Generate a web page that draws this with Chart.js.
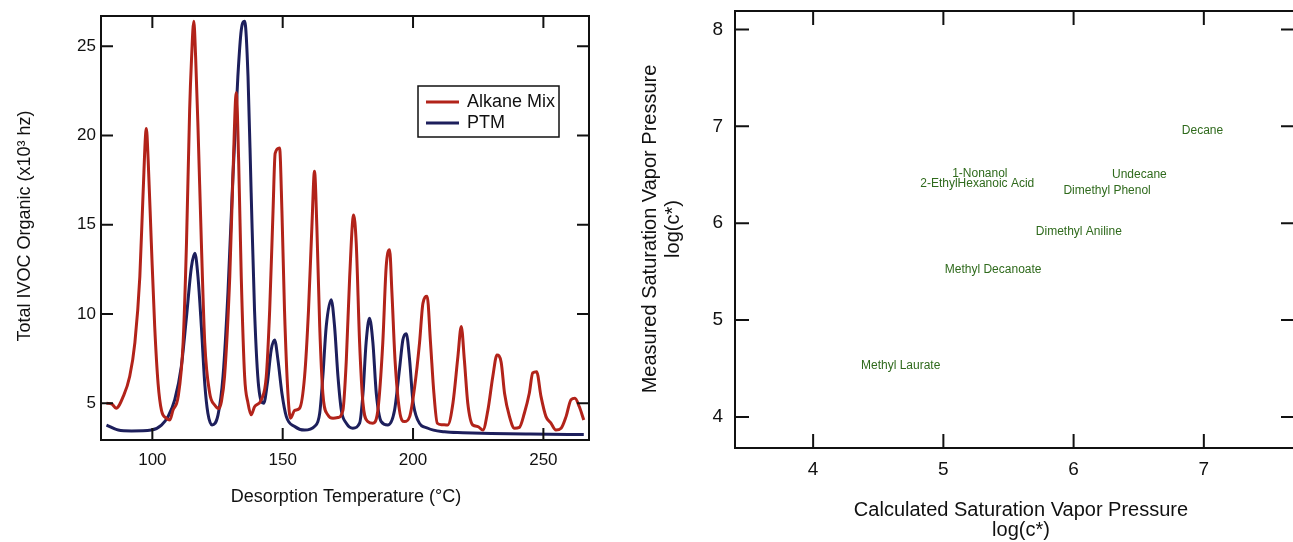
<!DOCTYPE html>
<html lang="en">
<head>
<meta charset="UTF-8">
<title>IVOC desorption and saturation vapor pressure</title>
<style>
  html, body { margin: 0; padding: 0; background: #fff; overflow: hidden; }
  .panel { position: absolute; top: 0; height: 542px; }
  #leftPanel { left: 0; width: 620px; }
  #rightPanel { left: 620px; width: 680px; }
</style>
<script src="https://cdn.jsdelivr.net/npm/chart.js"></script>
</head>
<body>
<div class="panel" id="leftPanel"><canvas id="desorbChart"></canvas></div>
<div class="panel" id="rightPanel"><canvas id="vaporChart"></canvas></div>
<script>
// left panel: desorption thermogram
const alkaneTemp = [82.4, 84.5, 86.1, 88.8, 91.3, 93.3, 95.2, 96.4, 97.7, 98.4, 99.6, 100.9, 102.2, 103.5, 105.4, 106.7,
  107.9, 109.9, 111.8, 113.1, 114.3, 115.0, 115.9, 116.6, 117.5, 118.8, 120.1, 122.0, 123.9, 125.5, 126.5,
  127.7, 129.7, 130.9, 132.2, 133.1, 134.1, 135.4, 136.7, 137.9, 139.2, 141.8, 143.7, 145.0, 146.3, 147.1,
  148.8, 149.7, 150.7, 152.0, 153.0, 154.6, 156.5, 158.4, 159.9, 161.2, 162.2, 163.1, 164.2, 165.4, 167.3,
  169.3, 171.2, 173.1, 174.4, 175.7, 177.2, 178.2, 179.5, 180.8, 182.7, 184.6, 186.5, 188.4, 189.7, 191.0,
  191.9, 193.1, 194.8, 196.7, 198.7, 200.6, 202.5, 203.8, 205.4, 206.7, 208.0, 209.3, 211.0, 213.3, 215.3,
  217.2, 218.5, 219.7, 221.0, 222.9, 224.8, 226.8, 228.7, 230.6, 232.2, 233.8, 235.1, 237.0, 238.9, 240.8,
  242.7, 244.6, 245.9, 247.4, 249.1, 251.0, 252.9, 254.8, 256.8, 258.7, 260.6, 262.1, 263.8, 265.5];
const alkaneSignal = [5.0, 4.95, 4.72, 5.37, 6.5, 8.4, 12.1, 16.6, 20.4, 18.6, 14.0, 9.3, 6.1, 4.6, 4.16, 4.06,
  4.6, 5.37, 8.4, 14.0, 21.4, 24.2, 26.4, 24.4, 20.5, 14.0, 8.4, 5.56, 4.9, 4.7, 5.1,
  6.5, 12.1, 17.7, 22.4, 18.6, 12.1, 6.5, 5.0, 4.35, 4.8, 5.2, 6.5, 10.2, 15.8, 19.0,
  19.3, 15.8, 10.2, 5.56, 4.16, 4.6, 4.72, 6.5, 10.2, 14.9, 18.0, 14.9, 9.3, 5.56, 4.35,
  4.16, 4.2, 4.6, 7.4, 12.1, 15.55, 14.0, 8.4, 5.0, 3.97, 3.88, 4.6, 8.4, 12.65, 13.6,
  11.2, 7.4, 4.6, 3.97, 4.25, 5.9, 8.4, 10.6, 11.0, 8.4, 5.56, 3.88, 3.8, 3.78, 5.0,
  7.6, 9.3, 7.4, 5.0, 3.78, 3.7, 3.5, 4.6, 6.5, 7.7, 7.3, 5.56, 4.25, 3.6, 3.65,
  4.44, 5.56, 6.7, 6.77, 5.37, 4.25, 3.88, 3.5, 3.6, 4.25, 5.2, 5.28, 4.8, 4.06];

const ptmTemp = [82.4, 86.9, 92.0, 99.6, 103.5, 106.0, 108.6, 111.1, 113.0, 115.0, 116.3, 117.5, 118.8, 120.1,
  121.3, 122.9, 125.2, 127.1, 129.0, 130.9, 132.8, 134.1, 135.4, 136.7, 137.9, 139.2, 140.8, 142.7, 144.1,
  145.6, 146.9, 148.2, 149.7, 151.4, 154.6, 158.4, 162.2, 164.2, 165.4, 166.7, 168.6, 169.9, 171.2, 172.5,
  174.4, 176.9, 179.5, 180.8, 182.0, 183.3, 184.6, 185.9, 187.8, 190.3, 192.9, 194.8, 196.1, 197.4, 198.7,
  199.9, 201.8, 205.7, 212.1, 219.1, 230.0, 245.0, 265.5];
const ptmSignal = [3.78, 3.5, 3.45, 3.5, 3.78, 4.25, 5.2, 7.05, 9.7, 12.65, 13.4, 12.1, 9.3, 6.1,
  4.44, 3.78, 4.35, 6.5, 11.2, 17.7, 23.3, 25.9, 26.4, 23.3, 16.8, 10.2, 5.9, 5.0, 6.1,
  8.0, 8.55, 7.4, 5.56, 4.25, 3.7, 3.5, 3.7, 4.44, 6.5, 9.3, 10.8, 9.3, 6.5, 4.6,
  3.88, 3.6, 3.88, 5.56, 8.4, 9.76, 8.4, 5.56, 3.97, 3.78, 4.6, 6.9, 8.55, 8.9, 7.4,
  5.2, 4.06, 3.6, 3.4, 3.35, 3.3, 3.27, 3.25];

const tempTicks = [100, 150, 200, 250];
const signalTicks = [5, 10, 15, 20, 25];

// right panel: measured vs calculated log(c*)
const compounds = ['Decane', '1-Nonanol', '2-EthylHexanoic Acid', 'Undecane', 'Dimethyl Phenol',
  'Dimethyl Aniline', 'Methyl Decanoate', 'Methyl Laurate'];
const calcLogC = [6.99, 5.28, 5.26, 6.505, 6.257, 6.04, 5.382, 4.672];
const measLogC = [6.95, 6.51, 6.41, 6.50, 6.335, 5.914, 5.52, 4.53];

const calcTicks = [4, 5, 6, 7];
const measTicks = [4, 5, 6, 7, 8];

const FONT = 'Arial, "Liberation Sans", sans-serif';

const framePlugin = {
  id: 'frame',
  afterDatasetsDraw(chart, args, opts) {
    const { ctx, chartArea: a, scales: { x, y } } = chart;
    ctx.save();
    ctx.strokeStyle = '#111';
    ctx.lineWidth = opts.lineWidth;
    ctx.strokeRect(a.left, a.top, a.right - a.left, a.bottom - a.top);
    const len = opts.tickLength;
    ctx.beginPath();
    x.ticks.forEach(t => {
      const px = x.getPixelForValue(t.value);
      ctx.moveTo(px, a.bottom); ctx.lineTo(px, a.bottom - len);
      ctx.moveTo(px, a.top); ctx.lineTo(px, a.top + len);
    });
    y.ticks.forEach(t => {
      const py = y.getPixelForValue(t.value);
      ctx.moveTo(a.left, py); ctx.lineTo(a.left + len, py);
      ctx.moveTo(a.right, py); ctx.lineTo(a.right - len, py);
    });
    ctx.stroke();
    ctx.restore();
  }
};

const titlePlugin = {
  id: 'titles',
  afterDraw(chart, args, opts) {
    const ctx = chart.ctx;
    ctx.save();
    ctx.fillStyle = '#111';
    ctx.textAlign = 'center';
    ctx.textBaseline = 'middle';
    opts.items.forEach(it => {
      ctx.save();
      ctx.font = it.size + 'px ' + FONT;
      ctx.translate(it.x, it.y);
      if (it.rotate) ctx.rotate(-Math.PI / 2);
      ctx.fillText(it.text, 0, 0);
      ctx.restore();
    });
    ctx.restore();
  }
};

const boxLegendPlugin = {
  id: 'boxLegend',
  afterDraw(chart, args, opts) {
    const ctx = chart.ctx;
    ctx.save();
    ctx.fillStyle = '#fff';
    ctx.fillRect(opts.x, opts.y, opts.w, opts.h);
    ctx.strokeStyle = '#111';
    ctx.lineWidth = 1.5;
    ctx.strokeRect(opts.x, opts.y, opts.w, opts.h);
    ctx.font = opts.size + 'px ' + FONT;
    ctx.textBaseline = 'middle';
    chart.data.datasets.forEach((ds, i) => {
      const ly = opts.y + 16 + i * 21;
      ctx.strokeStyle = ds.borderColor;
      ctx.lineWidth = 3;
      ctx.beginPath();
      ctx.moveTo(opts.x + 8, ly);
      ctx.lineTo(opts.x + 41, ly);
      ctx.stroke();
      ctx.fillStyle = '#111';
      ctx.fillText(ds.label, opts.x + 49, ly);
    });
    ctx.restore();
  }
};

const pointLabelPlugin = {
  id: 'pointLabels',
  afterDatasetsDraw(chart, args, opts) {
    const ctx = chart.ctx;
    const meta = chart.getDatasetMeta(0);
    ctx.save();
    ctx.font = opts.size + 'px ' + FONT;
    ctx.fillStyle = opts.color;
    ctx.textAlign = 'center';
    ctx.textBaseline = 'middle';
    meta.data.forEach((pt, i) => {
      ctx.fillText(compounds[i], pt.x, pt.y);
    });
    ctx.restore();
  }
};

function toXY(xs, ys) {
  return xs.map((v, i) => ({ x: v, y: ys[i] }));
}

// pin the axis boxes so the plot frame lands where the original's does
function fixBox(size, horizontal) {
  return s => {
    if (horizontal) s.height = size; else s.width = size;
    s.paddingTop = 0; s.paddingBottom = 0; s.paddingLeft = 0; s.paddingRight = 0;
  };
}

new Chart(document.getElementById('desorbChart'), {
  type: 'line',
  data: {
    datasets: [{
      label: 'Alkane Mix',
      data: toXY(alkaneTemp, alkaneSignal),
      borderColor: '#b2231a',
      borderWidth: 3,
      pointRadius: 0,
      cubicInterpolationMode: 'monotone'
    }, {
      label: 'PTM',
      data: toXY(ptmTemp, ptmSignal),
      borderColor: '#1d1f5c',
      borderWidth: 3,
      pointRadius: 0,
      cubicInterpolationMode: 'monotone'
    }]
  },
  options: {
    responsive: true,
    maintainAspectRatio: false,
    animation: false,
    layout: { padding: { top: 16, right: 31, left: 0, bottom: 0 } },
    scales: {
      x: {
        type: 'linear',
        min: 80.3,
        max: 267.5,
        grid: { display: false, drawTicks: false },
        border: { display: false },
        ticks: { font: { size: 17, family: FONT }, color: '#111', padding: 10, maxRotation: 0 },
        afterBuildTicks: s => { s.ticks = tempTicks.map(v => ({ value: v })); },
        afterFit: fixBox(102, true)
      },
      y: {
        min: 2.94,
        max: 26.7,
        grid: { display: false, drawTicks: false },
        border: { display: false },
        ticks: { font: { size: 17, family: FONT }, color: '#111', padding: 5 },
        afterBuildTicks: s => { s.ticks = signalTicks.map(v => ({ value: v })); },
        afterFit: fixBox(101, false)
      }
    },
    plugins: {
      legend: { display: false },
      tooltip: { enabled: false },
      frame: { lineWidth: 2, tickLength: 12 },
      boxLegend: { x: 418, y: 86, w: 141, h: 51, size: 18 },
      titles: {
        items: [
          { text: 'Desorption Temperature (\u00B0C)', x: 346, y: 497, size: 18 },
          { text: 'Total IVOC Organic (x10\u00B3 hz)', x: 25, y: 226, size: 18, rotate: true }
        ]
      }
    }
  },
  plugins: [framePlugin, boxLegendPlugin, titlePlugin]
});

new Chart(document.getElementById('vaporChart'), {
  type: 'scatter',
  data: {
    datasets: [{
      label: 'Compounds',
      data: toXY(calcLogC, measLogC),
      pointRadius: 0
    }]
  },
  options: {
    responsive: true,
    maintainAspectRatio: false,
    animation: false,
    layout: { padding: { top: 11, right: 5, left: 0, bottom: 0 } },
    scales: {
      x: {
        type: 'linear',
        min: 3.4,
        max: 7.7,
        grid: { display: false, drawTicks: false },
        border: { display: false },
        ticks: { font: { size: 19, family: FONT }, color: '#111', padding: 10, maxRotation: 0 },
        afterBuildTicks: s => { s.ticks = calcTicks.map(v => ({ value: v })); },
        afterFit: fixBox(94, true)
      },
      y: {
        min: 3.68,
        max: 8.19,
        grid: { display: false, drawTicks: false },
        border: { display: false },
        ticks: { font: { size: 19, family: FONT }, color: '#111', padding: 12 },
        afterBuildTicks: s => { s.ticks = measTicks.map(v => ({ value: v })); },
        afterFit: fixBox(115, false)
      }
    },
    plugins: {
      legend: { display: false },
      tooltip: { enabled: false },
      frame: { lineWidth: 2, tickLength: 14 },
      pointLabels: { size: 12, color: '#2f6a1c' },
      titles: {
        items: [
          { text: 'Calculated Saturation Vapor Pressure', x: 401, y: 510, size: 20 },
          { text: 'log(c*)', x: 401, y: 530, size: 20 },
          { text: 'Measured Saturation Vapor Pressure', x: 30, y: 229, size: 20, rotate: true },
          { text: 'log(c*)', x: 53, y: 229, size: 20, rotate: true }
        ]
      }
    }
  },
  plugins: [framePlugin, pointLabelPlugin, titlePlugin]
});
</script>
</body>
</html>
